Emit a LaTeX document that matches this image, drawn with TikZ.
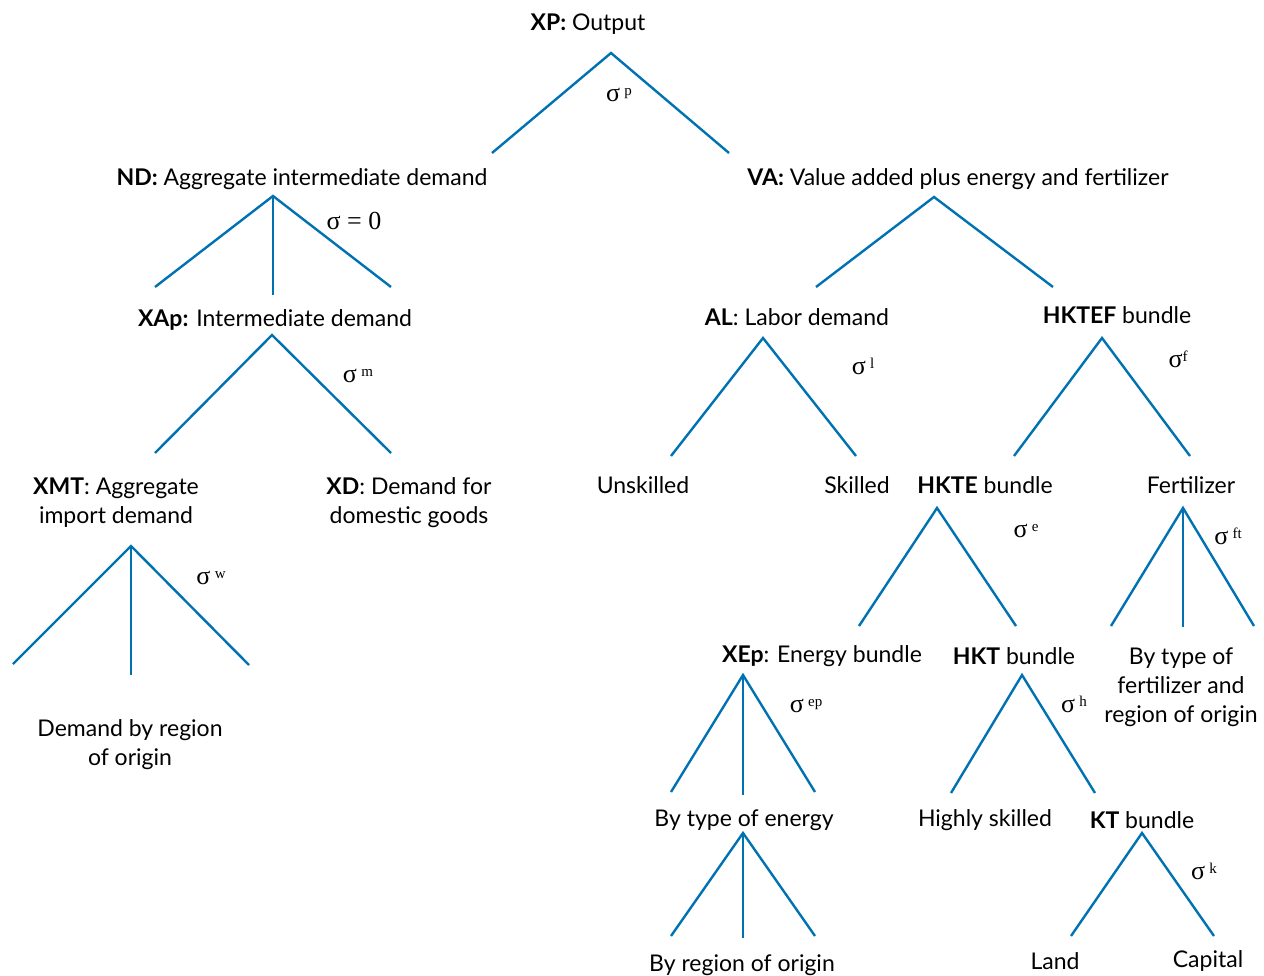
\documentclass[tikz,border=0pt]{standalone}
\usepackage{fontspec}
\setmainfont{Lato}
\newfontfamily\sigfont{Liberation Serif}
\definecolor{treeblue}{RGB}{0,114,178}
\tikzset{
  lbl/.style={inner sep=0pt, font=\fontsize{23}{29}\selectfont, align=center, text=black},
  sig/.style={inner sep=0pt, font=\sigfont\fontsize{26}{26}\selectfont, text=black},
  leg/.style={draw=treeblue, line width=2.4pt, line cap=butt}
}
\newcommand{\sg}[1]{σ\,\raisebox{0.5ex}{\fontsize{15}{16}\selectfont #1}}
\begin{document}
\begin{tikzpicture}[x=1pt,y=-1pt]
\useasboundingbox (0,0) rectangle (1264,976);
% labels
\node[lbl] (xp) at (588,24) {\textbf{XP:} Output};
\node[lbl] (nd) at (302,179) {\textbf{ND:} Aggregate intermediate demand};
\node[lbl] (va) at (958,179) {\textbf{VA:} Value added plus energy and fertilizer};
\node[lbl] (xap) at (275,320) {\textbf{XAp:} Intermediate demand};
\node[lbl] (al) at (797,317) {\textbf{AL}: Labor demand};
\node[lbl] (hktef) at (1117,315) {\textbf{HKTEF} bundle};
\node[lbl] (xmt) at (116,503) {\textbf{XMT}: Aggregate\\import demand};
\node[lbl] (xd) at (409,503) {\textbf{XD}: Demand for\\domestic goods};
\node[lbl] (unsk) at (643,485) {Unskilled};
\node[lbl] (sk) at (857,485) {Skilled};
\node[lbl] (hkte) at (985,485) {\textbf{HKTE} bundle};
\node[lbl] (fert) at (1191,485) {Fertilizer};
\node[lbl] (xep) at (822,656) {\textbf{XEp}: Energy bundle};
\node[lbl] (hkt) at (1014,656) {\textbf{HKT} bundle};
\node[lbl] (byfert) at (1181,687) {By type of\\fertilizer and\\region of origin};
\node[lbl] (dreg) at (130,745) {Demand by region\\of origin};
\node[lbl] (byen) at (744,820) {By type of energy};
\node[lbl] (hsk) at (985,820) {Highly skilled};
\node[lbl] (kt) at (1142,820) {\textbf{KT} bundle};
\node[lbl] (byreg) at (742,965) {By region of origin};
\node[lbl] (land) at (1055,961) {Land};
\node[lbl] (cap) at (1208,961) {Capital};
% sigma labels
\node[sig] (sp) at (619,95) {\sg{p}};
\node[sig] (s0) at (354,221) {σ = 0};
\node[sig] (sm) at (358,376) {\sg{m}};
\node[sig] (sl) at (863,366) {\sg{l}};
\node[sig] (sf) at (1178,359) {σ\raisebox{0.5ex}{\fontsize{15}{16}\selectfont f}};
\node[sig] (sw) at (211,578) {\sg{w}};
\node[sig] (se) at (1026,531) {\sg{e}};
\node[sig] (sft) at (1228,536) {\sg{ft}};
\node[sig] (sep) at (806,706) {\sg{ep}};
\node[sig] (sh) at (1074,704) {\sg{h}};
\node[sig] (sk2) at (1204,871) {\sg{k}};
% apexes and leg ends
\coordinate (aXP) at (611,53);  \coordinate (aXP1) at (492,153); \coordinate (aXP2) at (729,153);
\coordinate (aND) at (273,196); \coordinate (aND1) at (155,287); \coordinate (aND2) at (273,295); \coordinate (aND3) at (391,287);
\coordinate (aVA) at (934,197); \coordinate (aVA1) at (816,287); \coordinate (aVA2) at (1053,287);
\coordinate (aXAp) at (272,335); \coordinate (aXAp1) at (155,453); \coordinate (aXAp2) at (391,453);
\coordinate (aAL) at (763,338); \coordinate (aAL1) at (671,456); \coordinate (aAL2) at (856,456);
\coordinate (aHF) at (1102,338); \coordinate (aHF1) at (1014,456); \coordinate (aHF2) at (1190,456);
\coordinate (aXMT) at (131,546); \coordinate (aXMT1) at (13,664); \coordinate (aXMT2) at (131,675); \coordinate (aXMT3) at (249,665);
\coordinate (aHE) at (937,508); \coordinate (aHE1) at (859,626); \coordinate (aHE2) at (1016,626);
\coordinate (aFE) at (1183,508); \coordinate (aFE1) at (1111,626); \coordinate (aFE2) at (1183,627); \coordinate (aFE3) at (1254,626);
\coordinate (aXE) at (743,675); \coordinate (aXE1) at (671,792); \coordinate (aXE2) at (743,795); \coordinate (aXE3) at (815,792);
\coordinate (aHK) at (1022,675); \coordinate (aHK1) at (951,793); \coordinate (aHK2) at (1095,793);
\coordinate (aBE) at (743,833); \coordinate (aBE1) at (671,936); \coordinate (aBE2) at (743,938); \coordinate (aBE3) at (815,936);
\coordinate (aKT) at (1142,833); \coordinate (aKT1) at (1071,936); \coordinate (aKT2) at (1214,936);
% legs
\draw[leg] (aXP1) -- (aXP) -- (aXP2);
\draw[leg] (aND1) -- (aND) -- (aND3); \draw[leg] (aND) -- (aND2);
\draw[leg] (aVA1) -- (aVA) -- (aVA2);
\draw[leg] (aXAp1) -- (aXAp) -- (aXAp2);
\draw[leg] (aAL1) -- (aAL) -- (aAL2);
\draw[leg] (aHF1) -- (aHF) -- (aHF2);
\draw[leg] (aXMT1) -- (aXMT) -- (aXMT3); \draw[leg] (aXMT) -- (aXMT2);
\draw[leg] (aHE1) -- (aHE) -- (aHE2);
\draw[leg] (aFE1) -- (aFE) -- (aFE3); \draw[leg] (aFE) -- (aFE2);
\draw[leg] (aXE1) -- (aXE) -- (aXE3); \draw[leg] (aXE) -- (aXE2);
\draw[leg] (aHK1) -- (aHK) -- (aHK2);
\draw[leg] (aBE1) -- (aBE) -- (aBE3); \draw[leg] (aBE) -- (aBE2);
\draw[leg] (aKT1) -- (aKT) -- (aKT2);
\end{tikzpicture}
\end{document}
